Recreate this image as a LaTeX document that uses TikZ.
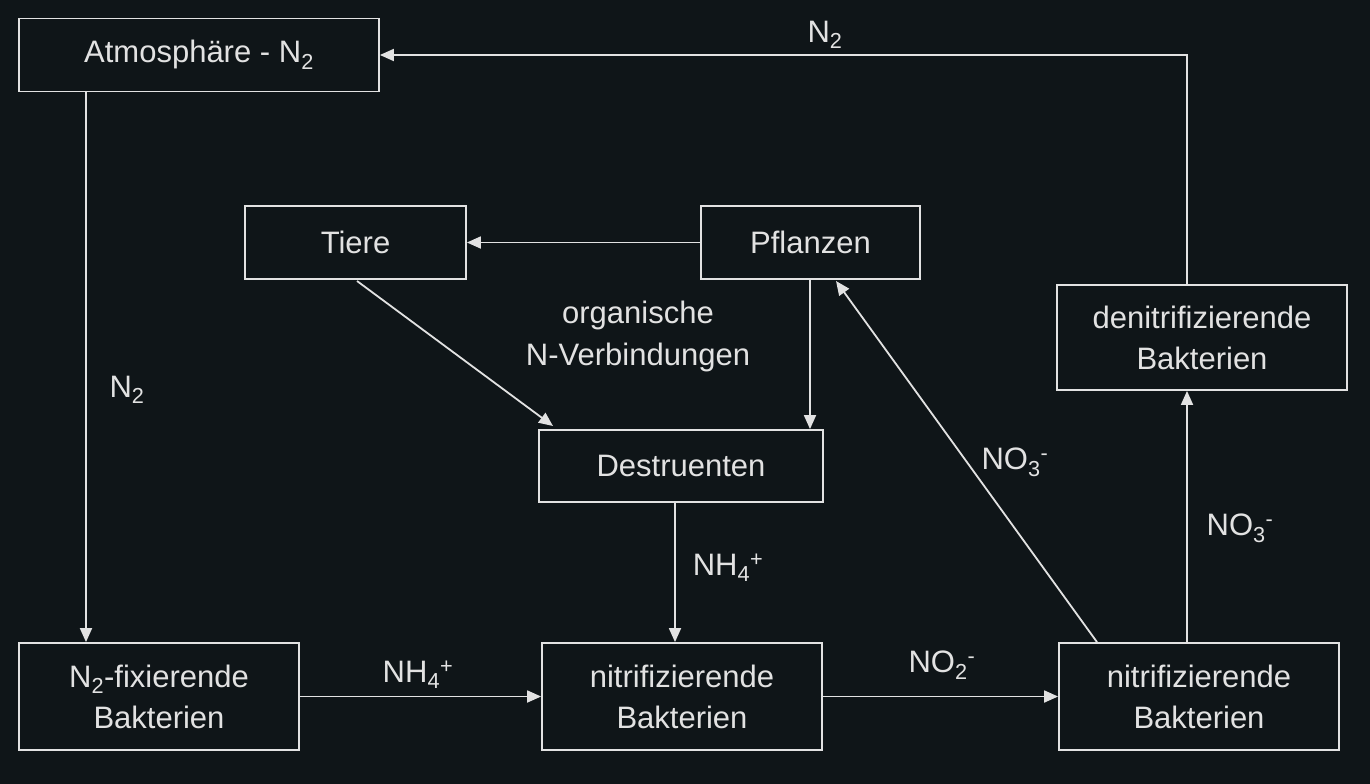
\documentclass[tikz,border=0pt]{standalone}
\usepackage{fontspec}
\setmainfont{Liberation Sans}
\usetikzlibrary{arrows.meta}
\definecolor{bg}{HTML}{0F1518}
\definecolor{fg}{HTML}{E2E2E2}
\begin{document}
\begin{tikzpicture}[x=1pt,y=-1pt,
  box/.style={draw=fg,line width=1.8pt,inner sep=0pt,align=center,text=fg,font=\fontsize{31}{41}\selectfont},
  lab/.style={text=fg,align=center,font=\fontsize{31}{41}\selectfont},
  arr/.style={draw=fg,line width=1.8pt,-{Triangle[length=14pt,width=12pt]}}]
\fill[bg] (0,0) rectangle (1370,784);
\useasboundingbox (0,0) rectangle (1370,784);
\node[box,minimum width=360pt,minimum height=73pt] (atm) at (199,55) {Atmosphäre - N\textsubscript{2}};
\node[box,minimum width=221pt,minimum height=73pt] (tiere) at (355.5,242.5) {Tiere};
\node[box,minimum width=219pt,minimum height=73pt] (pfl) at (810.5,242.5) {Pflanzen};
\node[box,minimum width=290pt,minimum height=105pt] (den) at (1202,337.5) {denitrifizierende\\Bakterien};
\node[box,minimum width=284pt,minimum height=72pt] (des) at (681,466) {Destruenten};
\node[box,minimum width=280pt,minimum height=107pt] (fix) at (159,696.5) {N\textsubscript{2}-fixierende\\Bakterien};
\node[box,minimum width=280pt,minimum height=107pt] (nit1) at (682,696.5) {nitrifizierende\\Bakterien};
\node[box,minimum width=280pt,minimum height=107pt] (nit2) at (1199,696.5) {nitrifizierende\\Bakterien};
\coordinate (c1) at (1187,55);
\draw[arr] (atm.south -| 86,0) -- (fix.north -| 86,0);
\draw[arr] (den.north -| 1187,0) -- (c1) -- (atm.east);
\draw[arr] (pfl.west) -- (tiere.east);
\draw[arr] (357,281) -- (553,426);
\draw[arr] (pfl.south -| 810,0) -- (des.north -| 810,0);
\draw[arr] (des.south -| 675,0) -- (nit1.north -| 675,0);
\draw[arr] (fix.east) -- (nit1.west);
\draw[arr] (nit1.east) -- (nit2.west);
\draw[arr] (nit2.north -| 1097,0) -- (836,281);
\draw[arr] (nit2.north -| 1187,0) -- (den.south -| 1187,0);
\node[lab] (l1) at (127,390) {N\textsubscript{2}};
\node[lab] (l2) at (825,35) {N\textsubscript{2}};
\node[lab,font=\fontsize{31}{42}\selectfont] (l3) at (638,336) {organische\\N-Verbindungen};
\node[lab] (l4) at (728,568) {NH\textsubscript{4}\textsuperscript{+}};
\node[lab] (l5) at (418,675) {NH\textsubscript{4}\textsuperscript{+}};
\node[lab] (l6) at (942,665) {NO\textsubscript{2}\textsuperscript{-}};
\node[lab] (l7) at (1015,462) {NO\textsubscript{3}\textsuperscript{-}};
\node[lab] (l8) at (1240,528) {NO\textsubscript{3}\textsuperscript{-}};
\end{tikzpicture}
\end{document}
